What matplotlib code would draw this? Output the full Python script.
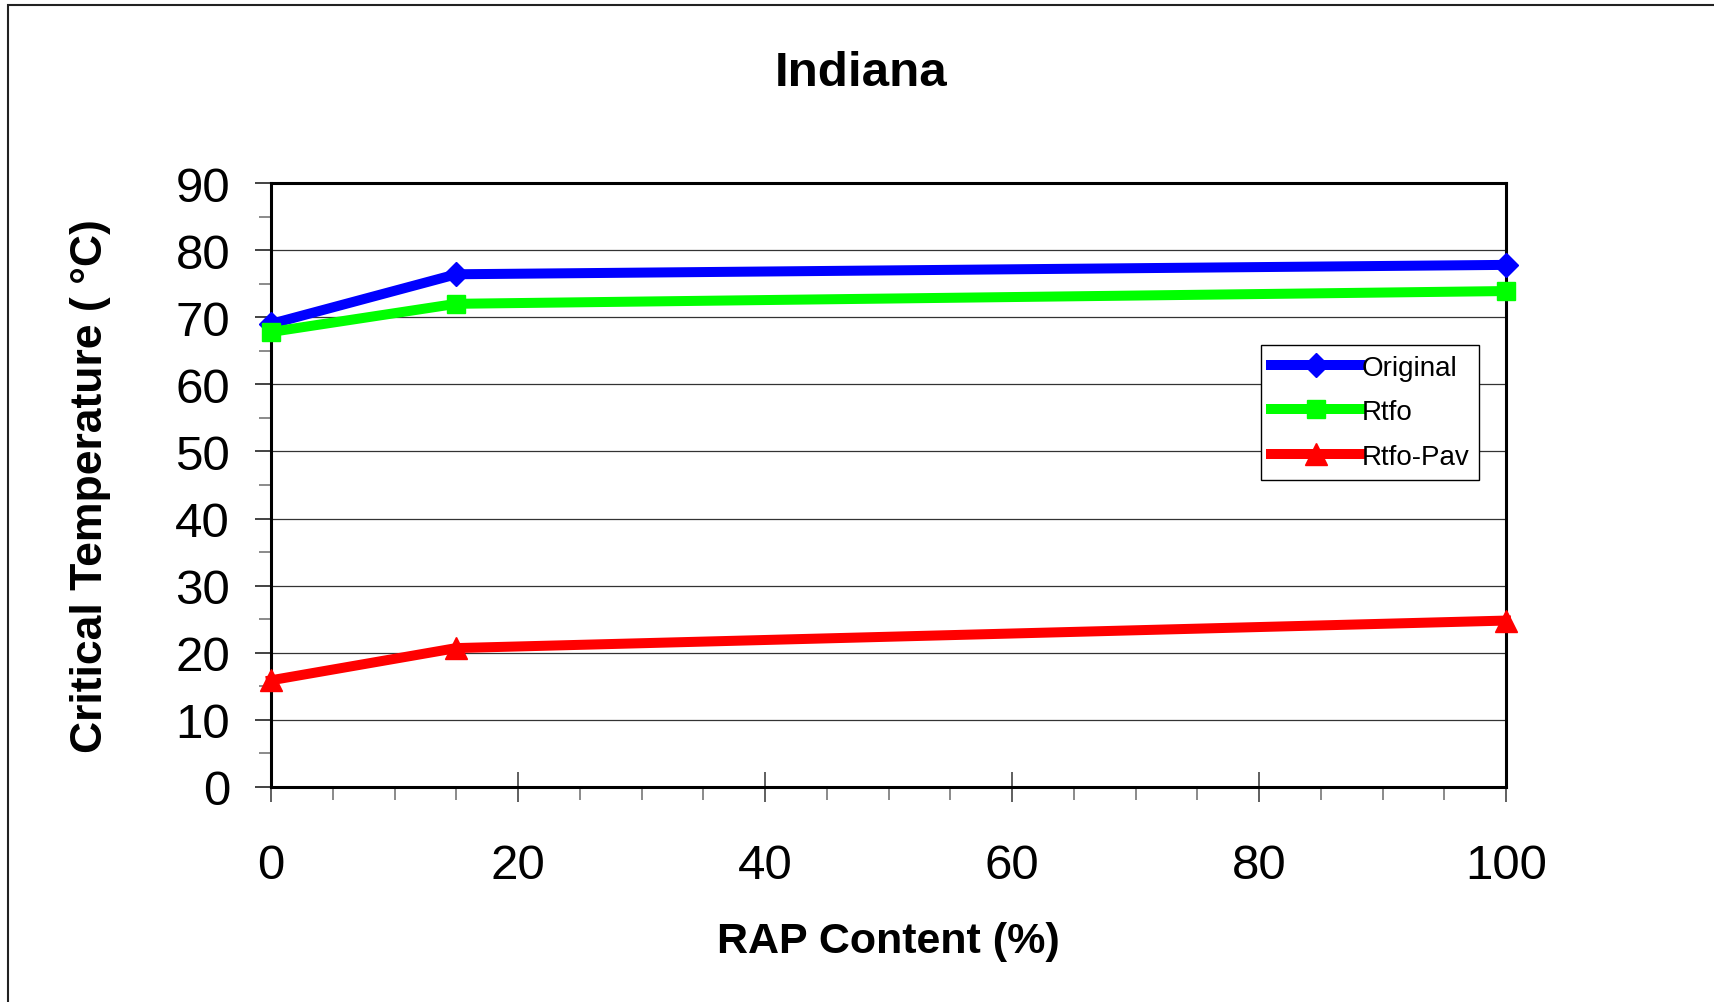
import numpy as np
import matplotlib
matplotlib.use('Agg')
import matplotlib.pyplot as plt
from matplotlib.patches import Rectangle
from matplotlib.ticker import MultipleLocator

# data
rap = [0, 15, 100]
original = [69.0, 76.4, 77.8]
rtfo = [67.8, 72.0, 73.9]
rtfo_pav = [15.9, 20.7, 24.8]

labels = ['Original', 'Rtfo', 'Rtfo-Pav']
colors = ['#0000ff', '#00ff00', '#ff0000']
markers = ['D', 's', '^']
msizes = [12, 13, 16]

plt.rcParams['font.family'] = ['Liberation Sans', 'DejaVu Sans']

W, H = 1714, 1003
fig = plt.figure(figsize=(W / 100, H / 100), dpi=100)
ax = fig.add_axes([271 / W, 1 - 788 / H, 1235 / W, 604 / H])

for y, lab, c, m, ms in zip([original, rtfo, rtfo_pav], labels, colors, markers, msizes):
    ax.plot(rap, y, color=c, lw=7.2, marker=m, markersize=ms, label=lab,
            clip_on=False, zorder=3)

ax.set_xlim(0, 100)
ax.set_ylim(0, 90)
ax.xaxis.set_major_locator(MultipleLocator(20))
ax.xaxis.set_minor_locator(MultipleLocator(5))
ax.yaxis.set_major_locator(MultipleLocator(10))
ax.yaxis.set_minor_locator(MultipleLocator(5))

ax.tick_params(axis='x', which='major', direction='inout', length=22, width=1.2,
               color='#444444', pad=29, labelsize=35.5)
ax.tick_params(axis='x', which='minor', direction='out', length=9, width=1.2,
               color='#777777')
ax.tick_params(axis='y', which='major', direction='out', length=11.5, width=1.2,
               color='#222222', pad=18, labelsize=35.5)
ax.tick_params(axis='y', which='minor', direction='out', length=9, width=1.2,
               color='#777777')

ax.grid(axis='y', which='major', color='#333333', lw=0.9)
ax.set_axisbelow(True)
for s in ax.spines.values():
    s.set_linewidth(2.2)
    s.set_color('black')

ax.set_xlabel('RAP Content (%)', fontsize=31, fontweight='bold', labelpad=24)
ax.set_ylabel('Critical Temperature ( °C)', fontsize=32, fontweight='bold', labelpad=46)
fig.text(861 / W, 1 - 74 / H, 'Indiana', fontsize=35.5, fontweight='bold',
         ha='center', va='center')

leg = ax.legend(loc='upper left', bbox_to_anchor=(0.802, 0.732), numpoints=1,
                prop={'size': 20},
                handlelength=3.2, handletextpad=0.05, labelspacing=0.67,
                borderpad=0.35, borderaxespad=0, fancybox=False, framealpha=1,
                edgecolor='black')
leg.get_frame().set_linewidth(1.0)

# outer chart-area border (left and top visible)
fig.add_artist(Rectangle((8 / W, -0.2), 1.5, 1.2 - 6 / H, transform=fig.transFigure,
                         fill=False, edgecolor='#222222', lw=1.5))

fig.savefig('out.png', dpi=100, facecolor='white')
